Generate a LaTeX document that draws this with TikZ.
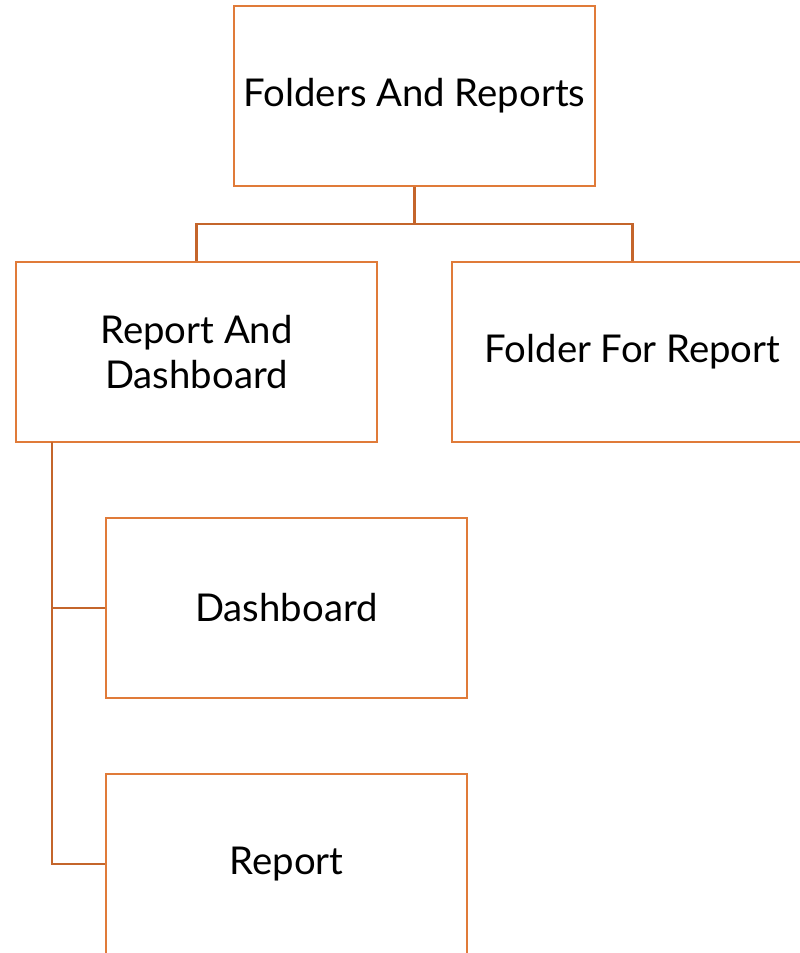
\documentclass[tikz,border=0pt]{standalone}
\usepackage{fontspec}
\setmainfont{Lato}
\usepackage{tikz}
\definecolor{boxline}{HTML}{E07B39}
\definecolor{linkline}{HTML}{C4652B}

\begin{document}
\begin{tikzpicture}
					[box/.style={rectangle,minimum width=7.22cm,minimum height=3.6cm,inner sep=0in,draw=boxline,line width=1.5pt,align=center,font=\fontsize{21.8}{25.5}\selectfont},
					link/.style={draw=linkline,line width=1.5pt}]
					\useasboundingbox (0,0) rectangle (16,-19.06);
					\node[box] (top) at (8.29,-1.92) {Folders And Reports};
					\node[box] (rad) at (3.93,-7.04) {Report And\\Dashboard};
					\node[box] (ffr) at (12.65,-7.04) {Folder For Report};
					\node[box] (dash) at (5.73,-12.16) {Dashboard};
					\node[box] (rep) at (5.73,-17.28) {Report};
					\coordinate (split) at (8.29,-4.48);
					\coordinate (rail) at (1.04,-8.84);
					\path[link] (top.south) -- (split);
					\path[link] (split) -| (rad.north);
					\path[link] (split) -| (ffr.north);
					\path[link] (rail) |- (dash.west);
					\path[link] (rail) |- (rep.west);
\end{tikzpicture}
\end{document}
